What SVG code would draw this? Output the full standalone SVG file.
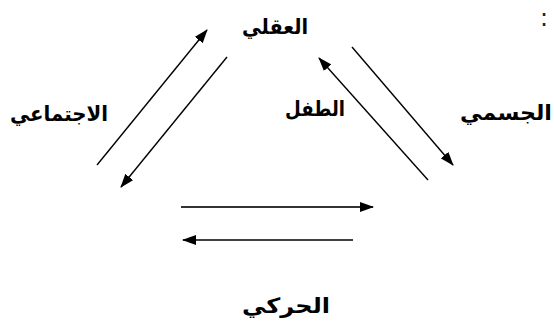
<svg xmlns="http://www.w3.org/2000/svg" width="554" height="331" viewBox="0 0 554 331">
<style>
.lbl{font-family:"DejaVu Sans",sans-serif;font-weight:bold;font-size:21px;fill:#000;}
.c{stroke:#000;stroke-width:1.4;fill:none;marker-end:url(#ah);}
</style>
<defs>
<marker id="ah" viewBox="0 0 14 10" refX="13" refY="5" markerWidth="14" markerHeight="10" markerUnits="userSpaceOnUse" orient="auto">
<path d="M0,0 L14,5 L0,10 Z" fill="#000"/>
</marker>
</defs>
<rect width="554" height="331" fill="#fff"/>
<g id="connectors">
<line class="c" x1="97" y1="165" x2="207" y2="30"/>
<line class="c" x1="227" y1="57" x2="121" y2="187"/>
<line class="c" x1="428" y1="180" x2="319" y2="58"/>
<line class="c" x1="352" y1="47" x2="453" y2="165"/>
<line class="c" x1="181" y1="207" x2="373" y2="207" style="stroke:#333;stroke-width:2"/>
<line class="c" x1="353" y1="240" x2="183" y2="240"/>
</g>
<g id="node-aqli"><text class="lbl" x="275" y="34" text-anchor="middle" textLength="66" lengthAdjust="spacingAndGlyphs">العقلي</text></g>
<g id="node-ijtimai"><text class="lbl" x="59" y="121" text-anchor="middle" textLength="98" lengthAdjust="spacingAndGlyphs">الاجتماعي</text></g>
<g id="node-tifl"><text class="lbl" x="315" y="116" text-anchor="middle" textLength="60" lengthAdjust="spacingAndGlyphs">الطفل</text></g>
<g id="node-jismi"><text class="lbl" x="506" y="120" text-anchor="middle" textLength="92" lengthAdjust="spacingAndGlyphs">الجسمي</text></g>
<g id="node-haraki"><text class="lbl" x="286" y="313" text-anchor="middle" textLength="88" lengthAdjust="spacingAndGlyphs">الحركي</text></g>
<text x="544" y="26" text-anchor="middle" style="font-family:'DejaVu Sans',sans-serif;font-size:24px;fill:#222">:</text>
</svg>
